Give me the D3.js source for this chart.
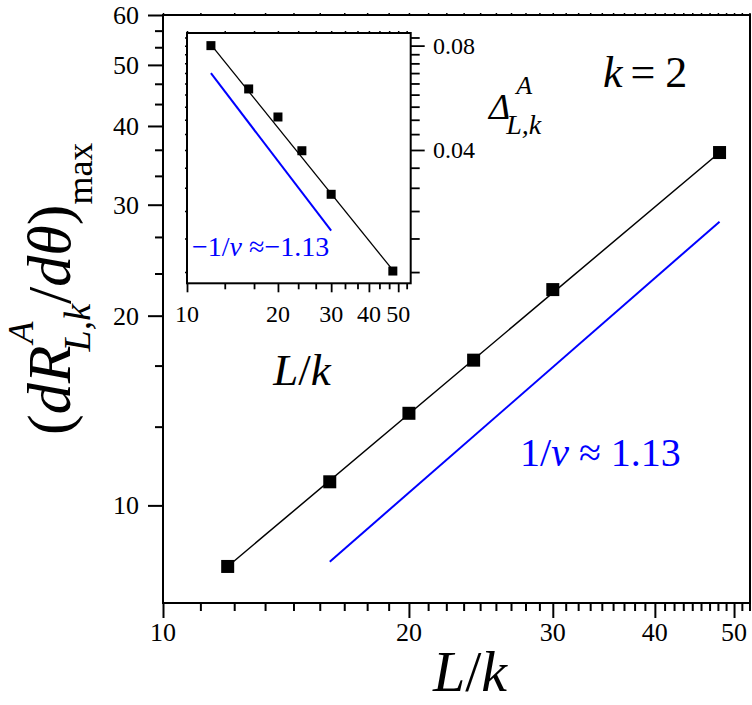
<!DOCTYPE html>
<html>
<head>
<meta charset="UTF-8">
<script src="https://d3js.org/d3.v7.min.js"></script>
<style>
  body { margin: 0; background: #fff; }
  svg, svg text { font-family: 'Liberation Serif', 'Times New Roman', 'DejaVu Serif', serif; }
</style>
</head>
<body>
<svg width="752" height="705"></svg>
<script>
// main panel
const sizes = [12, 16, 20, 24, 30, 48];
const dRmax = [8.0, 10.9, 14.0, 17.0, 22.0, 36.3];
const fitX = [12, 48];
const fitY = [8.0, 36.3];
const slopeX = [16, 48];
const slopeY = [8.14, 28.2];

// inset
const insetSizes = [12, 16, 20, 24, 30, 48];
const deltaA = [0.0800, 0.0600, 0.0498, 0.0398, 0.0298, 0.0179];
const insetFitX = [12, 48];
const insetFitY = [0.0805, 0.0180];
const insetSlopeX = [12, 30];
const insetSlopeY = [0.0666, 0.0234];

// tick labels
const xTicks = [10, 20, 30, 40, 50];
const yTicks = [10, 20, 30, 40, 50, 60];
const insetXTicks = [10, 20, 30, 40, 50];
const insetYTicks = [0.04, 0.08];

const FONT = "'Liberation Serif', 'Times New Roman', 'DejaVu Serif', serif";
const svg = d3.select("svg");
const blue = "#0000ff";

const x = d3.scaleLog().domain([10, 52.3]).range([163, 750]);
const y = d3.scaleLog().domain([7, 60]).range([603, 15]);
const ix = d3.scaleLog().domain([10, 55]).range([187, 410.7]);
const iy = d3.scaleLog().domain([0.0165, 0.087]).range([283.3, 33]);

// linear subdivisions between majors (Origin style)
function minors(majors, n, lo, hi) {
    const step = (majors[1] - majors[0]) / (n + 1);
    const out = [];
    for (let k = -60; k < 600; k++) {
        const v = majors[0] + k * step;
        if (v < lo || v > hi) continue;
        if (k % (n + 1) === 0) continue;
        out.push(v);
    }
    return out;
}

function tickSet(axisFn, scale, values, size, transform, w) {
    svg.append("g").attr("transform", transform)
        .call(axisFn(scale).tickValues(values).tickSize(size).tickSizeOuter(0).tickFormat(""))
        .call(a => a.select(".domain").remove())
        .selectAll("line").attr("stroke", "#000").attr("stroke-width", w || 2);
}

function label(sel) {
    return sel.style("font-family", FONT).style("fill", "#000");
}

// ---- main axes ----
const xMin = minors(xTicks, 8, 10, 52.3);
const yMin = minors(yTicks, 2, 7, 60);
tickSet(d3.axisBottom, x, xTicks, 15, "translate(0,603)");
tickSet(d3.axisBottom, x, xMin, 8, "translate(0,603)");
tickSet(d3.axisLeft, y, yTicks, 15, "translate(163,0)");
tickSet(d3.axisLeft, y, yMin, 8, "translate(163,0)");
tickSet(d3.axisTop, x, xTicks.concat(xMin), 2, "translate(0,15)", 1.5);

svg.append("rect").attr("x", 163).attr("y", 15).attr("width", 750 - 163).attr("height", 603 - 15)
    .attr("fill", "none").attr("stroke", "#000").attr("stroke-width", 2);

svg.append("g").selectAll("text").data(xTicks).join("text")
    .attr("x", d => x(d)).attr("y", 641).attr("text-anchor", "middle")
    .attr("font-size", 26).call(label).text(d => d);
svg.append("g").selectAll("text").data(yTicks).join("text")
    .attr("x", 139).attr("y", d => y(d) + 9).attr("text-anchor", "end")
    .attr("font-size", 26).call(label).text(d => d);

// ---- main series ----
const line = (sx, sy) => d3.line().x(d => sx(d[0])).y(d => sy(d[1]));
svg.append("path").datum(d3.zip(fitX, fitY)).attr("d", line(x, y))
    .attr("fill", "none").attr("stroke", "#000").attr("stroke-width", 1.5);
svg.append("path").datum(d3.zip(slopeX, slopeY)).attr("d", line(x, y))
    .attr("fill", "none").attr("stroke", blue).attr("stroke-width", 2);
svg.append("g").selectAll("rect").data(d3.zip(sizes, dRmax)).join("rect")
    .attr("x", d => x(d[0]) - 6.5).attr("y", d => y(d[1]) - 6.5)
    .attr("width", 13).attr("height", 13).attr("fill", "#000");

// ---- inset ----
const ixMin = minors(insetXTicks, 2, 10, 55);
const iyMin = minors(insetYTicks, 8, 0.0165, 0.087);
tickSet(d3.axisBottom, ix, insetXTicks, 9, "translate(0,283.3)", 1.8);
tickSet(d3.axisBottom, ix, ixMin, 6, "translate(0,283.3)", 1.8);
tickSet(d3.axisTop, ix, insetXTicks.concat(ixMin), 2, "translate(0,33)", 1.5);
tickSet(d3.axisRight, iy, insetYTicks, 14, "translate(410.7,0)", 1.8);
tickSet(d3.axisRight, iy, iyMin, 9, "translate(410.7,0)", 1.8);
tickSet(d3.axisLeft, iy, insetYTicks.concat(iyMin), 2, "translate(187,0)", 1.5);

svg.append("rect").attr("x", 187).attr("y", 33).attr("width", 410.7 - 187).attr("height", 283.3 - 33)
    .attr("fill", "none").attr("stroke", "#000").attr("stroke-width", 2);

svg.append("g").selectAll("text").data(insetXTicks).join("text")
    .attr("x", d => ix(d)).attr("y", 322).attr("text-anchor", "middle")
    .attr("font-size", 24).call(label).text(d => d);
svg.append("g").selectAll("text").data(insetYTicks).join("text")
    .attr("x", 433).attr("y", d => iy(d) + 8).attr("font-size", 24)
    .call(label).text(d => d3.format(".2f")(d));

svg.append("path").datum(d3.zip(insetFitX, insetFitY)).attr("d", line(ix, iy))
    .attr("fill", "none").attr("stroke", "#000").attr("stroke-width", 1.3);
svg.append("path").datum(d3.zip(insetSlopeX, insetSlopeY)).attr("d", line(ix, iy))
    .attr("fill", "none").attr("stroke", blue).attr("stroke-width", 2);
svg.append("g").selectAll("rect").data(d3.zip(insetSizes, deltaA)).join("rect")
    .attr("x", d => ix(d[0]) - 4.5).attr("y", d => iy(d[1]) - 4.5)
    .attr("width", 9).attr("height", 9).attr("fill", "#000");

// ---- labels ----
function put(g, cx, p) {
    return g.append("text").attr("x", cx + (p.dx || 0)).attr("y", p.dy || 0)
        .attr("font-size", p.size).attr("font-style", p.it ? "italic" : "normal")
        .call(label).text(p.t);
}
function mathText(tx, ty, rot, parts) {
    const g = svg.append("g").attr("transform", `translate(${tx},${ty})` + (rot ? ` rotate(${rot})` : ""));
    let cx = 0;
    parts.forEach(p => {
        if (p.stack) {
            let w = 0;
            p.stack.forEach(s => {
                const t = put(g, cx, s);
                w = Math.max(w, t.node().getComputedTextLength() + (s.dx || 0));
            });
            cx += w;
        } else {
            cx += put(g, cx, p).node().getComputedTextLength() + (p.gap || 0);
        }
    });
}

mathText(70, 435, -90, [
    {t: "(", size: 62},
    {t: "dR", size: 62, it: true},
    {stack: [{t: "A", size: 36, it: true, dy: -37, dx: 2}, {t: "L,k", size: 38, it: true, dy: 20, dx: -6}]},
    {t: "/", size: 62},
    {t: "dθ", size: 62, it: true},
    {t: ")", size: 62},
    {t: "max", size: 36, dy: 22}
]);

mathText(489, 119, 0, [
    {t: "Δ", size: 36, it: true},
    {stack: [{t: "A", size: 26, it: true, dy: -25, dx: 6}, {t: "L,k", size: 28, it: true, dy: 15, dx: -4}]}
]);

mathText(603, 87, 0, [
    {t: "k", size: 44, it: true, gap: 8},
    {t: "=", size: 44, gap: 10},
    {t: "2", size: 44}
]);

const xt = svg.append("text").attr("x", 470).attr("y", 691).attr("text-anchor", "middle")
    .attr("font-size", 58).call(label);
xt.append("tspan").attr("font-style", "italic").text("L");
xt.append("tspan").text("/");
xt.append("tspan").attr("font-style", "italic").text("k");

const it = svg.append("text").attr("x", 302).attr("y", 385).attr("text-anchor", "middle")
    .attr("font-size", 45).call(label);
it.append("tspan").attr("font-style", "italic").text("L");
it.append("tspan").text("/");
it.append("tspan").attr("font-style", "italic").text("k");

const b1 = svg.append("text").attr("x", 520).attr("y", 466).attr("font-size", 40).call(label).style("fill", blue);
b1.append("tspan").text("1/");
b1.append("tspan").attr("font-style", "italic").text("ν");
b1.append("tspan").text("\u00A0≈\u00A01.13");

const b2 = svg.append("text").attr("x", 192).attr("y", 256).attr("font-size", 28).call(label).style("fill", blue);
b2.append("tspan").text("−1/");
b2.append("tspan").attr("font-style", "italic").text("ν");
b2.append("tspan").text("\u00A0≈−1.13");
</script>
</body>
</html>
